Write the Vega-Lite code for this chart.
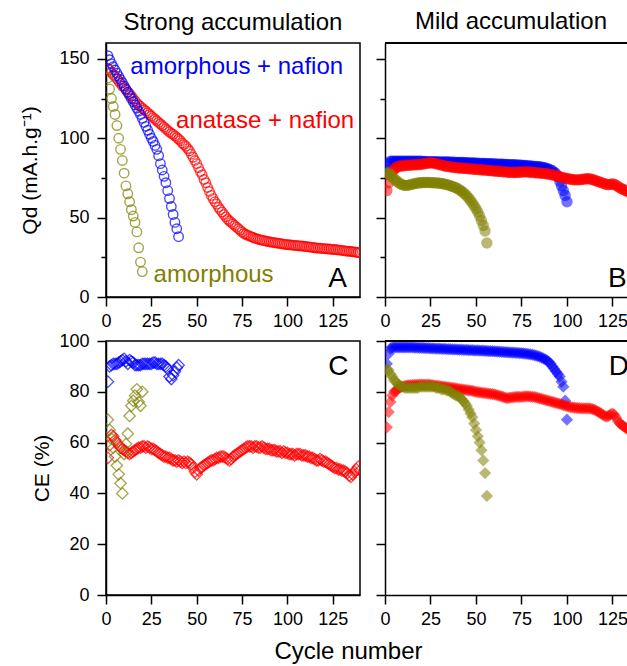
{
"$schema":"https://vega.github.io/schema/vega-lite/v6.json",
"padding":{"left":19,"top":10,"right":0,"bottom":0},
"config":{"font":"Liberation Sans","view":{"stroke":"#000","strokeWidth":1.5},
"axis":{"grid":false,"domainColor":"#000","domainWidth":1.5,"tickColor":"#000","tickWidth":1.5,"labelColor":"#000","labelFontSize":18,"labelFont":"Liberation Sans","titleColor":"#000","titleFontWeight":"normal","titleFont":"Liberation Sans","titleFontSize":21,"labelOverlap":false,"labelFlush":false,"labelPadding":6},
"title":{"font":"Liberation Sans","fontWeight":"normal","color":"#000","fontSize":24}},
"title":{"text":"Cycle number","orient":"bottom","anchor":"middle","offset":11,"dx":24},
"data":{"name":"d"},
"datasets":{"d":[
{"c":1,"Ar":144,"Ab":152,"Ao":138,"Br":67,"Bb":80,"Bo":78,"Cr":54,"Cb":84,"Co":69,"Dr":66,"Db":91,"Do":89},
{"c":2,"Ar":143,"Ab":149.5,"Ao":131,"Br":72,"Bb":84,"Bo":78,"Cr":59,"Cb":90,"Co":65,"Dr":72,"Db":95,"Do":88.5},
{"c":3,"Ar":141.5,"Ab":147,"Ao":125,"Br":76.5,"Bb":85.5,"Bo":77,"Cr":63,"Cb":90.5,"Co":61.5,"Dr":76,"Db":97,"Do":87},
{"c":4,"Ar":140,"Ab":145,"Ao":120,"Br":79,"Bb":85.5,"Bo":75.5,"Cr":62.5,"Cb":91,"Co":58,"Dr":78.5,"Db":97.5,"Do":86},
{"c":5,"Ar":139,"Ab":143,"Ao":115,"Br":80.5,"Bb":85.5,"Bo":74.5,"Cr":61,"Cb":91,"Co":54.5,"Dr":80,"Db":97.5,"Do":84.5},
{"c":6,"Ar":137.5,"Ab":141,"Ao":108,"Br":81.5,"Bb":85.5,"Bo":73.5,"Cr":60,"Cb":91,"Co":51,"Dr":80.5,"Db":97.5,"Do":84},
{"c":7,"Ar":136,"Ab":139,"Ao":100,"Br":82,"Bb":85.5,"Bo":72.5,"Cr":59,"Cb":91.5,"Co":47.5,"Dr":81,"Db":97.5,"Do":83},
{"c":8,"Ar":134.5,"Ab":137,"Ao":93,"Br":82.5,"Bb":85.5,"Bo":71.5,"Cr":58,"Cb":92,"Co":44,"Dr":81.5,"Db":97.5,"Do":82.5},
{"c":9,"Ar":133,"Ab":135,"Ao":86,"Br":82.5,"Bb":85.5,"Bo":71,"Cr":57.5,"Cb":92.5,"Co":40,"Dr":82,"Db":97.5,"Do":82},
{"c":10,"Ar":132,"Ab":133,"Ao":78,"Br":82.7,"Bb":85.5,"Bo":70.5,"Cr":57,"Cb":93,"Co":55.5,"Dr":82,"Db":97.5,"Do":82},
{"c":11,"Ar":130.5,"Ab":131,"Ao":70,"Br":82.8,"Bb":85.5,"Bo":70.3,"Cr":56.5,"Cb":92,"Co":59.5,"Dr":82.3,"Db":97.5,"Do":81.5},
{"c":12,"Ar":129,"Ab":129,"Ao":65,"Br":83,"Bb":85.5,"Bo":70.3,"Cr":56,"Cb":91,"Co":63.5,"Dr":82.5,"Db":97.5,"Do":81.5},
{"c":13,"Ar":128,"Ab":127,"Ao":60,"Br":83,"Bb":85.5,"Bo":70.5,"Cr":55.5,"Cb":92.5,"Co":70.5,"Dr":82.5,"Db":97.5,"Do":81.5},
{"c":14,"Ar":126.5,"Ab":125,"Ao":55,"Br":83,"Bb":85.5,"Bo":70.8,"Cr":56,"Cb":92,"Co":74.5,"Dr":82.6,"Db":97.5,"Do":81.5},
{"c":15,"Ar":125,"Ab":123,"Ao":51,"Br":83.2,"Bb":85.5,"Bo":71.1,"Cr":56.5,"Cb":91.5,"Co":76.5,"Dr":82.6,"Db":97.5,"Do":81.5},
{"c":16,"Ar":123.5,"Ab":121,"Ao":47,"Br":83.3,"Bb":85.5,"Bo":71.4,"Cr":57,"Cb":90.5,"Co":78.5,"Dr":82.7,"Db":97.4,"Do":81.5},
{"c":17,"Ar":122,"Ab":119,"Ao":41,"Br":83.3,"Bb":85.5,"Bo":71.6,"Cr":57.5,"Cb":90.5,"Co":81,"Dr":82.7,"Db":97.4,"Do":81.5},
{"c":18,"Ar":121,"Ab":117,"Ao":31,"Br":83.4,"Bb":85.5,"Bo":71.8,"Cr":58,"Cb":90.5,"Co":76,"Dr":82.8,"Db":97.4,"Do":81.5},
{"c":19,"Ar":120,"Ab":115,"Ao":22,"Br":83.5,"Bb":85.5,"Bo":72,"Cr":58,"Cb":90.5,"Co":74.5,"Dr":82.8,"Db":97.3,"Do":82},
{"c":20,"Ar":119,"Ab":112.5,"Ao":16,"Br":83.6,"Bb":85.5,"Bo":72,"Cr":58.5,"Cb":91,"Co":80,"Dr":82.8,"Db":97.3,"Do":82},
{"c":21,"Ar":118,"Ab":110,"Br":83.8,"Bb":85.4,"Bo":72.1,"Cr":58.5,"Cb":91,"Dr":82.8,"Db":97.3,"Do":82},
{"c":22,"Ar":117,"Ab":107.5,"Br":84,"Bb":85.4,"Bo":72.1,"Cr":58,"Cb":91,"Dr":82.8,"Db":97.2,"Do":82},
{"c":23,"Ar":116,"Ab":105,"Br":84.2,"Bb":85.3,"Bo":72.1,"Cr":58.5,"Cb":91,"Dr":82.8,"Db":97.2,"Do":82},
{"c":24,"Ar":115,"Ab":102.5,"Br":84.4,"Bb":85.3,"Bo":72.1,"Cr":58,"Cb":91,"Dr":82.8,"Db":97.2,"Do":82},
{"c":25,"Ar":114,"Ab":100,"Br":84.5,"Bb":85.3,"Bo":72.1,"Cr":57.5,"Cb":91,"Dr":82.7,"Db":97.1,"Do":82},
{"c":26,"Ar":113,"Ab":98,"Br":84.5,"Bb":85.2,"Bo":72,"Cr":57.5,"Cb":91.5,"Dr":82.6,"Db":97.1,"Do":82},
{"c":27,"Ar":112,"Ab":95.5,"Br":84.3,"Bb":85.2,"Bo":72,"Cr":57,"Cb":91.5,"Dr":82.5,"Db":97.1,"Do":82},
{"c":28,"Ar":111,"Ab":93,"Br":84,"Bb":85.2,"Bo":71.9,"Cr":56.5,"Cb":91,"Dr":82.4,"Db":97,"Do":81.5},
{"c":29,"Ar":110,"Ab":89,"Br":83.7,"Bb":85.1,"Bo":71.8,"Cr":56,"Cb":91,"Dr":82.3,"Db":97,"Do":81.5},
{"c":30,"Ar":109,"Ab":84,"Br":83.4,"Bb":85.1,"Bo":71.7,"Cr":55.5,"Cb":91,"Dr":82.2,"Db":97,"Do":81.5},
{"c":31,"Ar":108,"Ab":80,"Br":83.1,"Bb":85.1,"Bo":71.5,"Cr":55,"Cb":91,"Dr":82.1,"Db":96.9,"Do":81},
{"c":32,"Ar":107,"Ab":76,"Br":82.8,"Bb":85,"Bo":71.3,"Cr":54.5,"Cb":90.5,"Dr":82,"Db":96.9,"Do":81},
{"c":33,"Ar":106,"Ab":72,"Br":82.5,"Bb":85,"Bo":71.1,"Cr":54.5,"Cb":90,"Dr":81.9,"Db":96.9,"Do":81},
{"c":34,"Ar":105,"Ab":67,"Br":82.3,"Bb":85,"Bo":70.8,"Cr":54,"Cb":89,"Dr":81.8,"Db":96.8,"Do":80.5},
{"c":35,"Ar":104,"Ab":62,"Br":82.1,"Bb":85,"Bo":70.5,"Cr":54,"Cb":86,"Dr":81.7,"Db":96.8,"Do":80.5},
{"c":36,"Ar":103,"Ab":57,"Br":82,"Bb":84.9,"Bo":70.1,"Cr":53.5,"Cb":85,"Dr":81.6,"Db":96.8,"Do":80},
{"c":37,"Ar":102.5,"Ab":52,"Br":81.8,"Bb":84.9,"Bo":69.7,"Cr":53,"Cb":86.5,"Dr":81.5,"Db":96.7,"Do":79.5},
{"c":38,"Ar":101.5,"Ab":47,"Br":81.6,"Bb":84.9,"Bo":69.3,"Cr":53,"Cb":88,"Dr":81.4,"Db":96.7,"Do":79},
{"c":39,"Ar":100.5,"Ab":43,"Br":81.5,"Bb":84.8,"Bo":68.8,"Cr":52.5,"Cb":89.5,"Dr":81.3,"Db":96.7,"Do":78.5},
{"c":40,"Ar":99.5,"Ab":38,"Br":81.4,"Bb":84.8,"Bo":68.2,"Cr":53,"Cb":90.5,"Dr":81.2,"Db":96.6,"Do":78.5},
{"c":41,"Ar":98.5,"Br":81.3,"Bb":84.8,"Bo":67.5,"Cr":52.5,"Dr":81.1,"Db":96.6,"Do":78},
{"c":42,"Ar":97,"Br":81.2,"Bb":84.7,"Bo":66.7,"Cr":52,"Dr":81,"Db":96.6,"Do":77.2},
{"c":43,"Ar":96,"Br":81.1,"Bb":84.7,"Bo":65.8,"Cr":52.5,"Dr":80.9,"Db":96.5,"Do":76.4},
{"c":44,"Ar":95,"Br":81,"Bb":84.6,"Bo":64.8,"Cr":52,"Dr":80.8,"Db":96.5,"Do":75.5},
{"c":45,"Ar":93.5,"Br":80.9,"Bb":84.6,"Bo":63.6,"Cr":52.5,"Dr":80.7,"Db":96.5,"Do":74.5},
{"c":46,"Ar":92,"Br":80.8,"Bb":84.5,"Bo":62.3,"Cr":52,"Dr":80.6,"Db":96.4,"Do":73},
{"c":47,"Ar":90,"Br":80.7,"Bb":84.5,"Bo":60.8,"Cr":51.5,"Dr":80.5,"Db":96.4,"Do":71.5},
{"c":48,"Ar":88,"Br":80.6,"Bb":84.4,"Bo":59.2,"Cr":50,"Dr":80.4,"Db":96.4,"Do":70},
{"c":49,"Ar":86,"Br":80.5,"Bb":84.4,"Bo":57.5,"Cr":48.5,"Dr":80.2,"Db":96.3,"Do":67.5},
{"c":50,"Ar":84,"Br":80.4,"Bb":84.3,"Bo":55.6,"Cr":47.5,"Dr":80,"Db":96.3,"Do":65},
{"c":51,"Ar":81.5,"Br":80.3,"Bb":84.3,"Bo":53.5,"Cr":49,"Dr":79.9,"Db":96.3,"Do":62.5},
{"c":52,"Ar":79,"Br":80.2,"Bb":84.2,"Bo":51,"Cr":50,"Dr":79.8,"Db":96.2,"Do":60},
{"c":53,"Ar":77,"Br":80.1,"Bb":84.2,"Bo":48.2,"Cr":50.5,"Dr":79.7,"Db":96.2,"Do":57},
{"c":54,"Ar":74,"Br":80,"Bb":84.1,"Bo":45,"Cr":51,"Dr":79.6,"Db":96.2,"Do":53},
{"c":55,"Ar":72,"Br":79.9,"Bb":84.1,"Bo":41.6,"Cr":51.5,"Dr":79.5,"Db":96.1,"Do":48},
{"c":56,"Ar":69,"Br":79.8,"Bb":84,"Bo":34,"Cr":52,"Dr":79.4,"Db":96.1,"Do":39},
{"c":57,"Ar":66.5,"Br":79.7,"Bb":84,"Cr":52.5,"Dr":79.3,"Db":96},
{"c":58,"Ar":64,"Br":79.6,"Bb":83.9,"Cr":53,"Dr":79.2,"Db":96},
{"c":59,"Ar":62,"Br":79.5,"Bb":83.9,"Cr":53,"Dr":79.1,"Db":96},
{"c":60,"Ar":60,"Br":79.4,"Bb":83.8,"Cr":53.5,"Dr":79,"Db":95.9},
{"c":61,"Ar":58.5,"Br":79.3,"Bb":83.8,"Cr":54,"Dr":78.8,"Db":95.9},
{"c":62,"Ar":56.5,"Br":79.2,"Bb":83.7,"Cr":54,"Dr":78.6,"Db":95.8},
{"c":63,"Ar":55,"Br":79.1,"Bb":83.7,"Cr":54.5,"Dr":78.4,"Db":95.8},
{"c":64,"Ar":53.5,"Br":79,"Bb":83.6,"Cr":54.5,"Dr":78.2,"Db":95.7},
{"c":65,"Ar":52,"Br":78.9,"Bb":83.6,"Cr":54.5,"Dr":78,"Db":95.7},
{"c":66,"Ar":50.5,"Br":78.8,"Bb":83.5,"Cr":54,"Dr":77.7,"Db":95.6},
{"c":67,"Ar":49,"Br":78.7,"Bb":83.5,"Cr":53.5,"Dr":77.5,"Db":95.6},
{"c":68,"Ar":48,"Br":78.6,"Bb":83.4,"Cr":53,"Dr":77.6,"Db":95.5},
{"c":69,"Ar":47,"Br":78.5,"Bb":83.4,"Cr":53.5,"Dr":77.7,"Db":95.5},
{"c":70,"Ar":46,"Br":78.5,"Bb":83.3,"Cr":54.5,"Dr":77.8,"Db":95.4},
{"c":71,"Ar":45,"Br":78.4,"Bb":83.3,"Cr":55,"Dr":77.9,"Db":95.4},
{"c":72,"Ar":44,"Br":78.4,"Bb":83.2,"Cr":55.5,"Dr":78,"Db":95.3},
{"c":73,"Ar":43,"Br":78.5,"Bb":83.2,"Cr":56,"Dr":78,"Db":95.3},
{"c":74,"Ar":42,"Br":78.6,"Bb":83.1,"Cr":56.5,"Dr":78,"Db":95.2},
{"c":75,"Ar":41,"Br":78.7,"Bb":83,"Cr":57,"Dr":78,"Db":95.2},
{"c":76,"Ar":40,"Br":78.8,"Bb":82.9,"Cr":57.5,"Dr":78.1,"Db":95.1},
{"c":77,"Ar":39.5,"Br":78.8,"Bb":82.8,"Cr":58,"Dr":78.2,"Db":95},
{"c":78,"Ar":39,"Br":78.8,"Bb":82.7,"Cr":58.5,"Dr":78.2,"Db":94.9},
{"c":79,"Ar":38.5,"Br":78.7,"Bb":82.6,"Cr":58.5,"Dr":78.2,"Db":94.8},
{"c":80,"Ar":38,"Br":78.6,"Bb":82.5,"Cr":58.5,"Dr":78.1,"Db":94.7},
{"c":81,"Ar":37.5,"Br":78.5,"Bb":82.4,"Cr":58,"Dr":78,"Db":94.6},
{"c":82,"Ar":37,"Br":78.4,"Bb":82.3,"Cr":58.5,"Dr":78,"Db":94.4},
{"c":83,"Ar":36.7,"Br":78.3,"Bb":82.2,"Cr":58.5,"Dr":77.8,"Db":94.2},
{"c":84,"Ar":36.4,"Br":78.2,"Bb":82.1,"Cr":58,"Dr":77.6,"Db":94},
{"c":85,"Ar":36,"Br":78.1,"Bb":82,"Cr":58,"Dr":77.4,"Db":93.8},
{"c":86,"Ar":35.8,"Br":78,"Bb":81.8,"Cr":58.5,"Dr":77.2,"Db":93.5},
{"c":87,"Ar":35.5,"Br":77.9,"Bb":81.6,"Cr":58,"Dr":77,"Db":93.2},
{"c":88,"Ar":35.3,"Br":77.8,"Bb":81.3,"Cr":57.5,"Dr":76.8,"Db":92.8},
{"c":89,"Ar":35,"Br":77.6,"Bb":81,"Cr":57.5,"Dr":76.6,"Db":92.4},
{"c":90,"Ar":34.8,"Br":77.4,"Bb":80.5,"Cr":57.5,"Dr":76.4,"Db":91.8},
{"c":91,"Ar":34.6,"Br":77.2,"Bb":80,"Cr":57,"Dr":76.2,"Db":91},
{"c":92,"Ar":34.4,"Br":77,"Bb":79.5,"Cr":57,"Dr":76,"Db":90},
{"c":93,"Ar":34.2,"Br":76.7,"Bb":78.5,"Cr":57,"Dr":75.8,"Db":89},
{"c":94,"Ar":34,"Br":76.4,"Bb":77.5,"Cr":56.5,"Dr":75.6,"Db":88},
{"c":95,"Ar":33.9,"Br":76.1,"Bb":76,"Cr":56.5,"Dr":75.4,"Db":87},
{"c":96,"Ar":33.7,"Br":75.8,"Bb":73,"Cr":56.5,"Dr":75.2,"Db":86},
{"c":97,"Ar":33.5,"Br":75.5,"Bb":70,"Cr":56,"Dr":75,"Db":84},
{"c":98,"Ar":33.3,"Br":75.2,"Bb":67,"Cr":56.5,"Dr":74.8,"Db":82},
{"c":99,"Ar":33.1,"Br":74.9,"Bb":64,"Cr":56,"Dr":74.6,"Db":76.5},
{"c":100,"Ar":33,"Br":74.6,"Bb":60,"Cr":56,"Dr":74.4,"Db":69},
{"c":101,"Ar":32.9,"Br":74.4,"Cr":55.5,"Dr":74.2},
{"c":102,"Ar":32.8,"Br":74.2,"Cr":55.5,"Dr":74},
{"c":103,"Ar":32.6,"Br":74,"Cr":55.5,"Dr":73.9},
{"c":104,"Ar":32.5,"Br":73.9,"Cr":55,"Dr":73.8},
{"c":105,"Ar":32.4,"Br":73.8,"Cr":55.5,"Dr":73.7},
{"c":106,"Ar":32.3,"Br":73.8,"Cr":55.5,"Dr":73.6},
{"c":107,"Ar":32.2,"Br":73.9,"Cr":55.5,"Dr":73.6},
{"c":108,"Ar":32.1,"Br":74,"Cr":55,"Dr":73.5},
{"c":109,"Ar":32,"Br":74.2,"Cr":55,"Dr":73.5},
{"c":110,"Ar":31.8,"Br":74.4,"Cr":55,"Dr":73.5},
{"c":111,"Ar":31.7,"Br":74.5,"Cr":54.5,"Dr":73.5},
{"c":112,"Ar":31.5,"Br":74.5,"Cr":54.5,"Dr":73.5},
{"c":113,"Ar":31.4,"Br":74.3,"Cr":54,"Dr":73.4},
{"c":114,"Ar":31.2,"Br":74,"Cr":54,"Dr":73.2},
{"c":115,"Ar":31,"Br":73.6,"Cr":53.5,"Dr":73},
{"c":116,"Ar":30.9,"Br":73.2,"Cr":53,"Dr":72.6},
{"c":117,"Ar":30.8,"Br":72.8,"Cr":53,"Dr":72.2},
{"c":118,"Ar":30.7,"Br":72.4,"Cr":53.5,"Dr":71.8},
{"c":119,"Ar":30.6,"Br":72,"Cr":53,"Dr":71.3},
{"c":120,"Ar":30.5,"Br":71.6,"Cr":52.5,"Dr":70.8},
{"c":121,"Ar":30.4,"Br":71.2,"Cr":52.5,"Dr":70.4},
{"c":122,"Ar":30.3,"Br":70.9,"Cr":52,"Dr":70.2},
{"c":123,"Ar":30.2,"Br":70.8,"Cr":51.5,"Dr":70.6},
{"c":124,"Ar":30.1,"Br":71,"Cr":51,"Dr":71.1},
{"c":125,"Ar":30,"Br":71.2,"Cr":50.5,"Dr":71.4},
{"c":126,"Ar":29.9,"Br":71,"Cr":50,"Dr":71},
{"c":127,"Ar":29.8,"Br":70.4,"Cr":50,"Dr":69.8},
{"c":128,"Ar":29.7,"Br":69.6,"Cr":49.5,"Dr":68.5},
{"c":129,"Ar":29.5,"Br":68.8,"Cr":49.5,"Dr":67.6},
{"c":130,"Ar":29.4,"Br":68.2,"Cr":49,"Dr":67},
{"c":131,"Ar":29.2,"Br":67.7,"Cr":49,"Dr":66.5},
{"c":132,"Ar":29,"Br":67.2,"Cr":48.5,"Dr":66},
{"c":133,"Ar":28.9,"Br":66.7,"Cr":48,"Dr":65.5},
{"c":134,"Ar":28.8,"Br":66.2,"Cr":47,"Dr":65},
{"c":135,"Ar":28.7,"Br":65.7,"Cr":46.5,"Dr":64.5},
{"c":136,"Ar":28.5,"Br":65.2,"Cr":47.5,"Dr":64},
{"c":137,"Ar":28.4,"Br":64.7,"Cr":48.5,"Dr":63.5},
{"c":138,"Ar":28.2,"Br":64.2,"Cr":49.5,"Dr":63},
{"c":139,"Ar":28,"Br":63.7,"Cr":50.5,"Dr":62.5},
{"c":140,"Ar":27.8,"Br":63.2,"Cr":49,"Dr":62}
]},
"columns":2,
"spacing":{"row":0,"column":14},
"concat":[
{"width":254,"height":254,
"title":{"text":"Strong accumulation","anchor":"middle","offset":8},
"layer":[
{"mark":{"type":"point","shape":"circle","filled":false,"color":"#ff0000","size":90,"strokeWidth":1.4,"clip":true},
"encoding":{"x":{"field":"c","type":"quantitative","scale":{"domain":[0,140],"nice":false},"axis":{"orient":"bottom","title":null,"values":[0,12.5,25,37.5,50,62.5,75,87.5,100,112.5,125,137.5],"labelExpr":"datum.value % 25 === 0 ? datum.label : ''","tickSize":{"condition":{"test":"datum.value % 25 === 0","value":9},"value":5}}},
"y":{"field":"Ar","type":"quantitative","scale":{"domain":[0,160],"nice":false},"axis":{"title":"Qd (mA.h.g⁻¹)","titlePadding":18,"values":[0,25,50,75,100,125,150],"labelExpr":"datum.value % 50 === 0 ? datum.label : ''","tickSize":{"condition":{"test":"datum.value % 50 === 0","value":9},"value":5},"labelPadding":8}}}},
{"mark":{"type":"point","shape":"circle","filled":false,"color":"#808000","size":90,"strokeWidth":1.4,"clip":true},
"encoding":{"x":{"field":"c","type":"quantitative"},"y":{"field":"Ao","type":"quantitative"}}},
{"mark":{"type":"point","shape":"circle","filled":false,"color":"#0000ff","size":90,"strokeWidth":1.4,"clip":true},
"encoding":{"x":{"field":"c","type":"quantitative"},"y":{"field":"Ab","type":"quantitative"}}},
{"data":{"values":[{"c":13.4,"v":140.5,"t":"amorphous + nafion"}]},"mark":{"type":"text","align":"left","baseline":"alphabetic","fontSize":24,"color":"#0000ff"},
"encoding":{"x":{"field":"c","type":"quantitative"},"y":{"field":"v","type":"quantitative"},"text":{"field":"t"}}},
{"data":{"values":[{"c":38.6,"v":106.2,"t":"anatase + nafion"}]},"mark":{"type":"text","align":"left","baseline":"alphabetic","fontSize":24,"color":"#ff0000"},
"encoding":{"x":{"field":"c","type":"quantitative"},"y":{"field":"v","type":"quantitative"},"text":{"field":"t"}}},
{"data":{"values":[{"c":26.2,"v":9.5,"t":"amorphous"}]},"mark":{"type":"text","align":"left","baseline":"alphabetic","fontSize":24,"color":"#808000"},
"encoding":{"x":{"field":"c","type":"quantitative"},"y":{"field":"v","type":"quantitative"},"text":{"field":"t"}}},
{"data":{"values":[{"c":122.5,"v":6,"t":"A"}]},"mark":{"type":"text","align":"left","baseline":"alphabetic","fontSize":28,"color":"#000"},
"encoding":{"x":{"field":"c","type":"quantitative"},"y":{"field":"v","type":"quantitative"},"text":{"field":"t"}}}
]},
{"width":244,"height":254,"view":{"stroke":null},
"title":{"text":"Mild accumulation","anchor":"middle","offset":8,"dx":4},
"layer":[
{"mark":{"type":"point","shape":"circle","filled":true,"color":"#0000ff","size":130,"opacity":0.55,"strokeWidth":0,"clip":true},
"encoding":{"x":{"field":"c","type":"quantitative","scale":{"domain":[0,134.1],"nice":false},"axis":{"orient":"bottom","title":null,"values":[0,12.5,25,37.5,50,62.5,75,87.5,100,112.5,125],"labelExpr":"datum.value % 25 === 0 ? datum.label : ''","tickSize":{"condition":{"test":"datum.value % 25 === 0","value":9},"value":5}}},
"y":{"field":"Bb","type":"quantitative","scale":{"domain":[0,160],"nice":false},"axis":{"title":null,"labels":false,"values":[0,25,50,75,100,125,150],"tickSize":{"condition":{"test":"datum.value % 50 === 0","value":9},"value":5}}}}},
{"mark":{"type":"point","shape":"circle","filled":true,"color":"#ff0000","size":130,"opacity":0.55,"strokeWidth":0,"clip":true},
"encoding":{"x":{"field":"c","type":"quantitative"},"y":{"field":"Br","type":"quantitative"}}},
{"mark":{"type":"point","shape":"circle","filled":true,"color":"#808000","size":130,"opacity":0.55,"strokeWidth":0,"clip":true},
"encoding":{"x":{"field":"c","type":"quantitative"},"y":{"field":"Bo","type":"quantitative"}}},
{"mark":{"type":"rule","color":"#000","strokeWidth":1.5},"encoding":{"y":{"datum":160,"type":"quantitative"}}},
{"data":{"values":[{"c":122.5,"v":6,"t":"B"}]},"mark":{"type":"text","align":"left","baseline":"alphabetic","fontSize":28,"color":"#000","clip":true},
"encoding":{"x":{"field":"c","type":"quantitative"},"y":{"field":"v","type":"quantitative"},"text":{"field":"t"}}}
]},
{"width":254,"height":254,
"layer":[
{"mark":{"type":"point","shape":"diamond","filled":false,"color":"#ff0000","size":130,"strokeWidth":1.3,"clip":true},
"encoding":{"x":{"field":"c","type":"quantitative","scale":{"domain":[0,140],"nice":false},"axis":{"orient":"bottom","title":null,"values":[0,12.5,25,37.5,50,62.5,75,87.5,100,112.5,125,137.5],"labelExpr":"datum.value % 25 === 0 ? datum.label : ''","tickSize":{"condition":{"test":"datum.value % 25 === 0","value":9},"value":5}}},
"y":{"field":"Cr","type":"quantitative","scale":{"domain":[0,100],"nice":false},"axis":{"title":"CE (%)","titlePadding":6,"values":[0,10,20,30,40,50,60,70,80,90,100],"labelExpr":"datum.value % 20 === 0 ? datum.label : ''","tickSize":{"condition":{"test":"datum.value % 20 === 0","value":9},"value":5},"labelPadding":8}}}},
{"mark":{"type":"point","shape":"diamond","filled":false,"color":"#808000","size":130,"strokeWidth":1.3,"clip":true},
"encoding":{"x":{"field":"c","type":"quantitative"},"y":{"field":"Co","type":"quantitative"}}},
{"mark":{"type":"point","shape":"diamond","filled":false,"color":"#0000ff","size":130,"strokeWidth":1.3,"clip":true},
"encoding":{"x":{"field":"c","type":"quantitative"},"y":{"field":"Cb","type":"quantitative"}}},
{"data":{"values":[{"c":122.5,"v":86.5,"t":"C"}]},"mark":{"type":"text","align":"left","baseline":"alphabetic","fontSize":28,"color":"#000"},
"encoding":{"x":{"field":"c","type":"quantitative"},"y":{"field":"v","type":"quantitative"},"text":{"field":"t"}}}
]},
{"width":244,"height":254,"view":{"stroke":null},
"layer":[
{"mark":{"type":"point","shape":"diamond","filled":true,"color":"#0000ff","size":150,"opacity":0.55,"strokeWidth":0,"clip":true},
"encoding":{"x":{"field":"c","type":"quantitative","scale":{"domain":[0,134.1],"nice":false},"axis":{"orient":"bottom","title":null,"values":[0,12.5,25,37.5,50,62.5,75,87.5,100,112.5,125],"labelExpr":"datum.value % 25 === 0 ? datum.label : ''","tickSize":{"condition":{"test":"datum.value % 25 === 0","value":9},"value":5}}},
"y":{"field":"Db","type":"quantitative","scale":{"domain":[0,100],"nice":false},"axis":{"title":null,"labels":false,"values":[0,10,20,30,40,50,60,70,80,90,100],"tickSize":{"condition":{"test":"datum.value % 20 === 0","value":9},"value":5}}}}},
{"mark":{"type":"point","shape":"diamond","filled":true,"color":"#ff0000","size":150,"opacity":0.55,"strokeWidth":0,"clip":true},
"encoding":{"x":{"field":"c","type":"quantitative"},"y":{"field":"Dr","type":"quantitative"}}},
{"mark":{"type":"point","shape":"diamond","filled":true,"color":"#808000","size":150,"opacity":0.55,"strokeWidth":0,"clip":true},
"encoding":{"x":{"field":"c","type":"quantitative"},"y":{"field":"Do","type":"quantitative"}}},
{"mark":{"type":"rule","color":"#000","strokeWidth":1.5},"encoding":{"y":{"datum":100,"type":"quantitative"}}},
{"data":{"values":[{"c":123,"v":86.5,"t":"D"}]},"mark":{"type":"text","align":"left","baseline":"alphabetic","fontSize":28,"color":"#000","clip":true},
"encoding":{"x":{"field":"c","type":"quantitative"},"y":{"field":"v","type":"quantitative"},"text":{"field":"t"}}}
]}
]
}
